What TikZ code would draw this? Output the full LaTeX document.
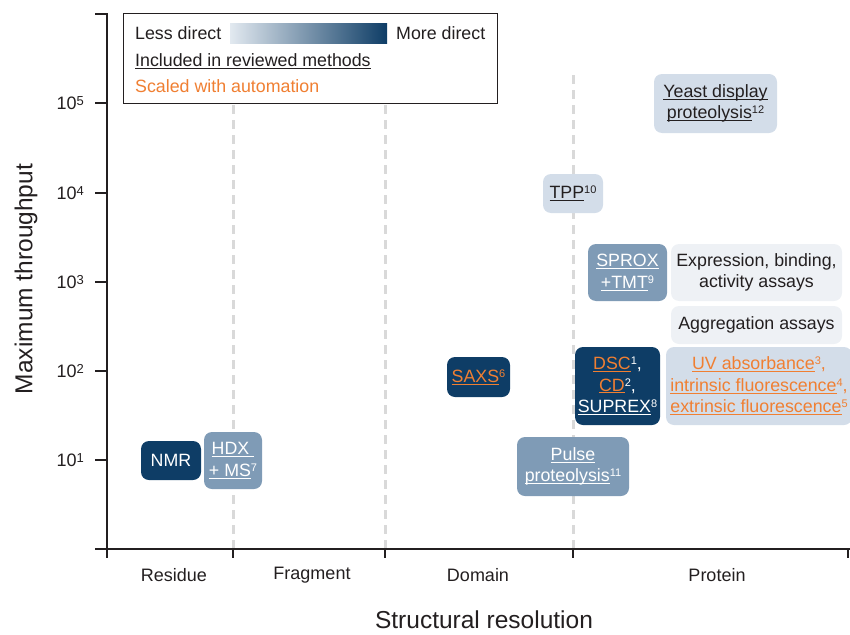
\documentclass[tikz,border=0pt]{standalone}
\usepackage{fontspec}
\setmainfont{Liberation Sans}
\usetikzlibrary{calc}
\definecolor{navy}{HTML}{0E3D66}
\definecolor{midb}{HTML}{7F9BB6}
\definecolor{lightb}{HTML}{D3DDE9}
\definecolor{pale}{HTML}{EEF1F5}
\definecolor{orng}{HTML}{F07F32}
\definecolor{txt}{HTML}{231F20}
\definecolor{gridc}{HTML}{D9D9D9}
\definecolor{gradl}{HTML}{E2E9F0}
\newcommand\boxfont{\fontsize{17.8}{21.5}\selectfont}
\newcommand\myul[1]{\leavevmode\setbox0\hbox{#1}\rlap{\rule[-2.4pt]{\wd0}{1pt}}\box0}
\newcommand\sups[1]{\raisebox{5pt}{\fontsize{11}{11}\selectfont #1}}
\newcommand\tsup[1]{\raisebox{3.8pt}{\fontsize{13}{13}\selectfont #1}}
\begin{document}
\begin{tikzpicture}[x=1pt,y=-1pt,
  methodbox/.style={rounded corners=8pt, inner sep=0pt, align=center, font=\boxfont},
  gridline/.style={gridc, line width=3pt, dash pattern=on 9pt off 6pt},
  axisline/.style={txt, line width=2.4pt},
  catlabel/.style={font=\fontsize{18}{20}\selectfont, text=txt},
  ticklabel/.style={font=\fontsize{18}{20}\selectfont, text=txt, anchor=east, inner sep=0pt},
  titlelabel/.style={font=\fontsize{24.5}{26}\selectfont, text=txt, inner sep=0pt}]
\useasboundingbox (0,0) rectangle (850,634);
% grid lines
\draw[gridline] (233,75) -- (233,548);
\draw[gridline] (385,75) -- (385,548);
\draw[gridline] (573,75) -- (573,548);
% legend
\node[draw=txt, line width=1pt, fill=white, minimum width=374pt, minimum height=89pt, inner sep=0pt] (legend) at (310,58.5) {};
\shade[left color=gradl, right color=navy] (230,24) rectangle (387,44);
\node[anchor=west, inner sep=0pt, font=\boxfont, text=txt] (less) at (135,33) {Less direct};
\node[anchor=west, inner sep=0pt, font=\boxfont, text=txt] (more) at (396,33) {More direct};
\node[anchor=west, inner sep=0pt, font=\boxfont, text=txt] (incl) at (135,61) {\myul{Included in reviewed methods}};
\node[anchor=west, inner sep=0pt, font=\boxfont, text=orng] (scal) at (135,86) {Scaled with automation};
% method boxes
\node[methodbox, fill=lightb, text=txt, minimum width=123pt, minimum height=59pt] (yeast) at (715.5,103.5) {\myul{Yeast display}\\\myul{proteolysis}\sups{12}};
\node[methodbox, fill=lightb, text=txt, minimum width=60pt, minimum height=39pt] (tpp) at (573,193.5) {\myul{TPP}\sups{10}};
\node[methodbox, fill=midb, text=white, minimum width=79pt, minimum height=57pt] (sprox) at (627.5,272.5) {\myul{SPROX}\\\myul{+TMT}\sups{9}};
\node[methodbox, fill=pale, text=txt, minimum width=171pt, minimum height=57pt] (expr) at (756.5,272.5) {Expression, binding,\\activity assays};
\node[methodbox, fill=pale, text=txt, minimum width=171pt, minimum height=38pt] (aggr) at (756.5,325) {Aggregation assays};
\node[methodbox, fill=navy, text=orng, minimum width=63pt, minimum height=40pt] (saxs) at (478.5,377) {\myul{SAXS}\sups{6}};
\node[methodbox, fill=navy, text=white, minimum width=85pt, minimum height=78pt] (dsc) at (617.5,386) {{\color{orng}\myul{DSC}}\sups{1},\\{\color{orng}\myul{CD}}\sups{2},\\\myul{SUPREX}\sups{8}};
\begin{scope}
\clip (0,0) rectangle (850,634);
\node[methodbox, fill=lightb, text=orng, minimum width=186pt, minimum height=78pt] (uv) at (759,386) {\myul{UV absorbance}\sups{3},\\\myul{intrinsic fluorescence}\sups{4},\\\myul{extrinsic fluorescence}\sups{5}};
\end{scope}
\node[methodbox, fill=midb, text=white, minimum width=112pt, minimum height=59pt] (pulse) at (573,466.5) {\myul{Pulse}\\\myul{proteolysis}\sups{11}};
\node[methodbox, fill=navy, text=white, minimum width=60pt, minimum height=39pt] (nmr) at (171,460.5) {NMR};
\node[methodbox, fill=midb, text=white, minimum width=58pt, minimum height=57pt] (hdx) at (233,460.5) {\myul{HDX\ }\\\myul{+ MS}\sups{7}};
% axes
\draw[axisline] (95,14) -- (107,14) -- (107,558);
\draw[axisline] (95,549) -- (850,549);
\foreach \yy in {103,193,282,371,460} \draw[axisline] (95,\yy) -- (107,\yy);
\foreach \xx in {233,385,573,848} \draw[axisline] (\xx,549) -- (\xx,558);
% tick labels
\node[ticklabel] (t5) at (84,103) {10\tsup{5}};
\node[ticklabel] (t4) at (84,193) {10\tsup{4}};
\node[ticklabel] (t3) at (84,282) {10\tsup{3}};
\node[ticklabel] (t2) at (84,371) {10\tsup{2}};
\node[ticklabel] (t1) at (84,460) {10\tsup{1}};
% category labels
\node[catlabel] (res) at (174,575) {Residue};
\node[catlabel] (frag) at (312,575) {Fragment};
\node[catlabel] (dom) at (478,575) {Domain};
\node[catlabel] (prot) at (717,575) {Protein};
% axis titles
\node[titlelabel, anchor=base] (xt) at (484,628) {Structural resolution};
\node[titlelabel, rotate=90] (yt) at (26,279) {Maximum throughput};
\end{tikzpicture}
\end{document}
